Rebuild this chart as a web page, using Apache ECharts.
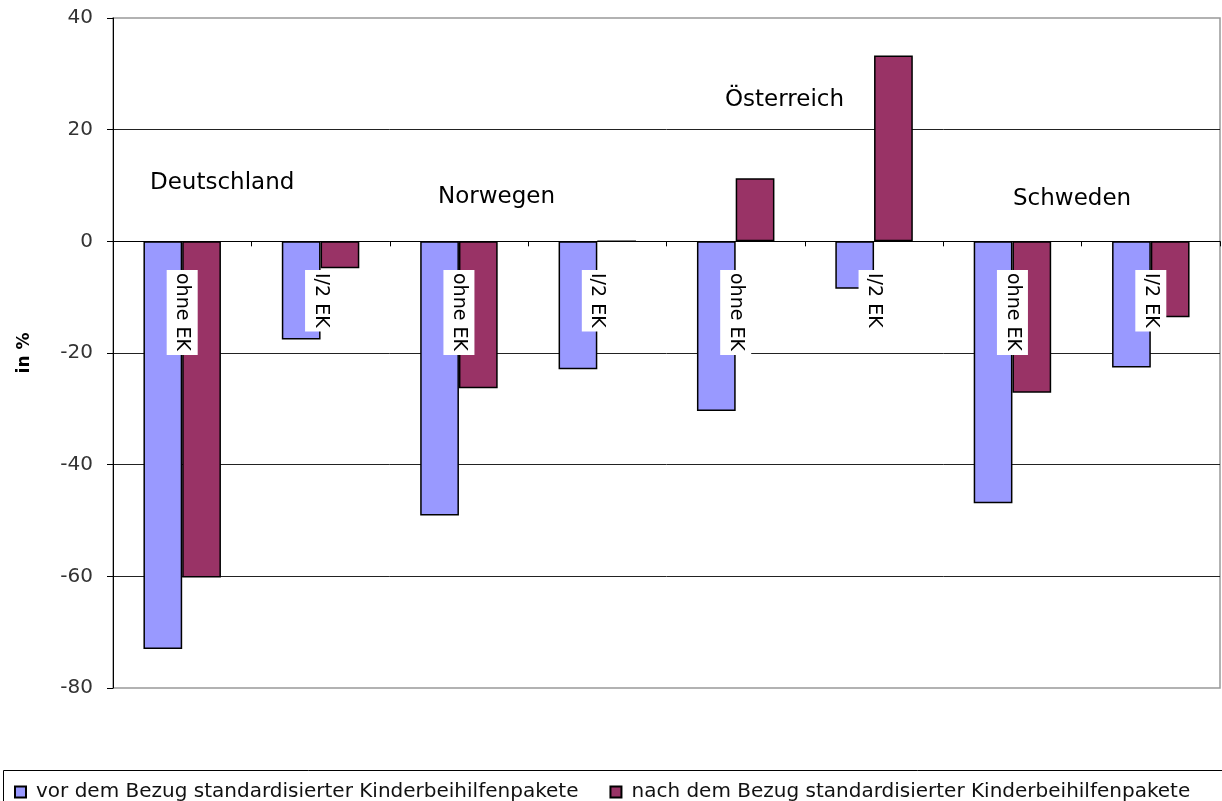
<!DOCTYPE html>
<html>
<head>
<meta charset="utf-8">
<script src="https://cdn.jsdelivr.net/npm/echarts@6/dist/echarts.min.js"></script>
<style>
html,body{margin:0;padding:0;background:#fff;}
#main{width:1222px;height:801px;}
</style>
</head>
<body>
<div id="main"></div>
<script>
// categories along the x axis
var categories = ['ohne EK', 'I/2 EK', 'ohne EK', 'I/2 EK', 'ohne EK', 'I/2 EK', 'ohne EK', 'I/2 EK'];
// values in %
var vorValues = [-73.0, -17.6, -49.1, -22.9, -30.4, -8.5, -46.9, -22.6];
var nachValues = [-60.2, -4.8, -26.3, 0, 11.3, 33.3, -27.1, -13.6];
var seriesNames = ['vor dem Bezug standardisierter Kinderbeihilfenpakete', 'nach dem Bezug standardisierter Kinderbeihilfenpakete'];
var countries = ['Deutschland', 'Norwegen', 'Österreich', 'Schweden'];

var font = '"DejaVu Sans", sans-serif';
var chart = echarts.init(document.getElementById('main'));

var option = {
  animation: false,
  textStyle: {fontFamily: font},
  grid: {left: 113, right: 2, top: 18, bottom: 113, show: true, borderColor: '#999', borderWidth: 1.5},
  legend: {
    left: 9, top: 777,
    icon: 'rect',
    itemWidth: 11, itemHeight: 11, itemGap: 31,
    textStyle: {fontSize: 20, color: '#111', fontFamily: font, padding: [0, 0, 0, 5]},
    data: seriesNames
  },
  xAxis: [
    {
      type: 'category',
      data: categories,
      axisLine: {onZero: true, lineStyle: {color: '#000', width: 1}},
      axisTick: {show: true, length: 5, lineStyle: {color: '#000'}},
      axisLabel: {show: false},
      splitLine: {show: false}
    },
    {
      // second axis only carries the labels, shifted up to the zero line
      type: 'category',
      data: categories,
      position: 'bottom',
      offset: -447,
      z: 10,
      axisLine: {show: false},
      axisTick: {show: false},
      axisLabel: {
        rotate: -90, margin: 29, fontSize: 19, color: '#000', fontFamily: font,
        backgroundColor: '#fff', padding: [4, 4, 8, 3]
      },
      splitLine: {show: false}
    }
  ],
  yAxis: {
    type: 'value',
    min: -80, max: 40, interval: 20,
    name: 'in %', nameLocation: 'middle', nameGap: 80, nameRotate: 90,
    nameTextStyle: {fontSize: 17, fontWeight: 'bold', color: '#000', fontFamily: font},
    axisLine: {show: true, lineStyle: {color: '#000'}},
    axisTick: {show: true, length: 6, lineStyle: {color: '#000'}},
    axisLabel: {fontSize: 20, color: '#333', margin: 20, fontFamily: font},
    splitLine: {showMinLine: false, showMaxLine: false, lineStyle: {color: '#222', width: 1}}
  },
  series: [
    {
      name: seriesNames[0], type: 'bar', data: vorValues,
      barGap: '0%', barCategoryGap: '44%',
      itemStyle: {color: '#9999ff', borderColor: '#000', borderWidth: 1.5}
    },
    {
      name: seriesNames[1], type: 'bar', data: nachValues,
      itemStyle: {color: '#993366', borderColor: '#000', borderWidth: 1.5}
    }
  ],
  graphic: [
    {type: 'rect', left: 1, top: 768, shape: {width: 1219, height: 40}, style: {fill: 'none', stroke: '#000', lineWidth: 1}, z: -1},
    {type: 'text', left: 150, top: 172, style: {text: countries[0], fontSize: 23, fontFamily: font, fill: '#000'}},
    {type: 'text', left: 438, top: 186, style: {text: countries[1], fontSize: 23, fontFamily: font, fill: '#000'}},
    {type: 'text', left: 725, top: 89, style: {text: countries[2], fontSize: 23, fontFamily: font, fill: '#000'}},
    {type: 'text', left: 1013, top: 188, style: {text: countries[3], fontSize: 23, fontFamily: font, fill: '#000'}}
  ]
};
chart.setOption(option);
</script>
</body>
</html>
